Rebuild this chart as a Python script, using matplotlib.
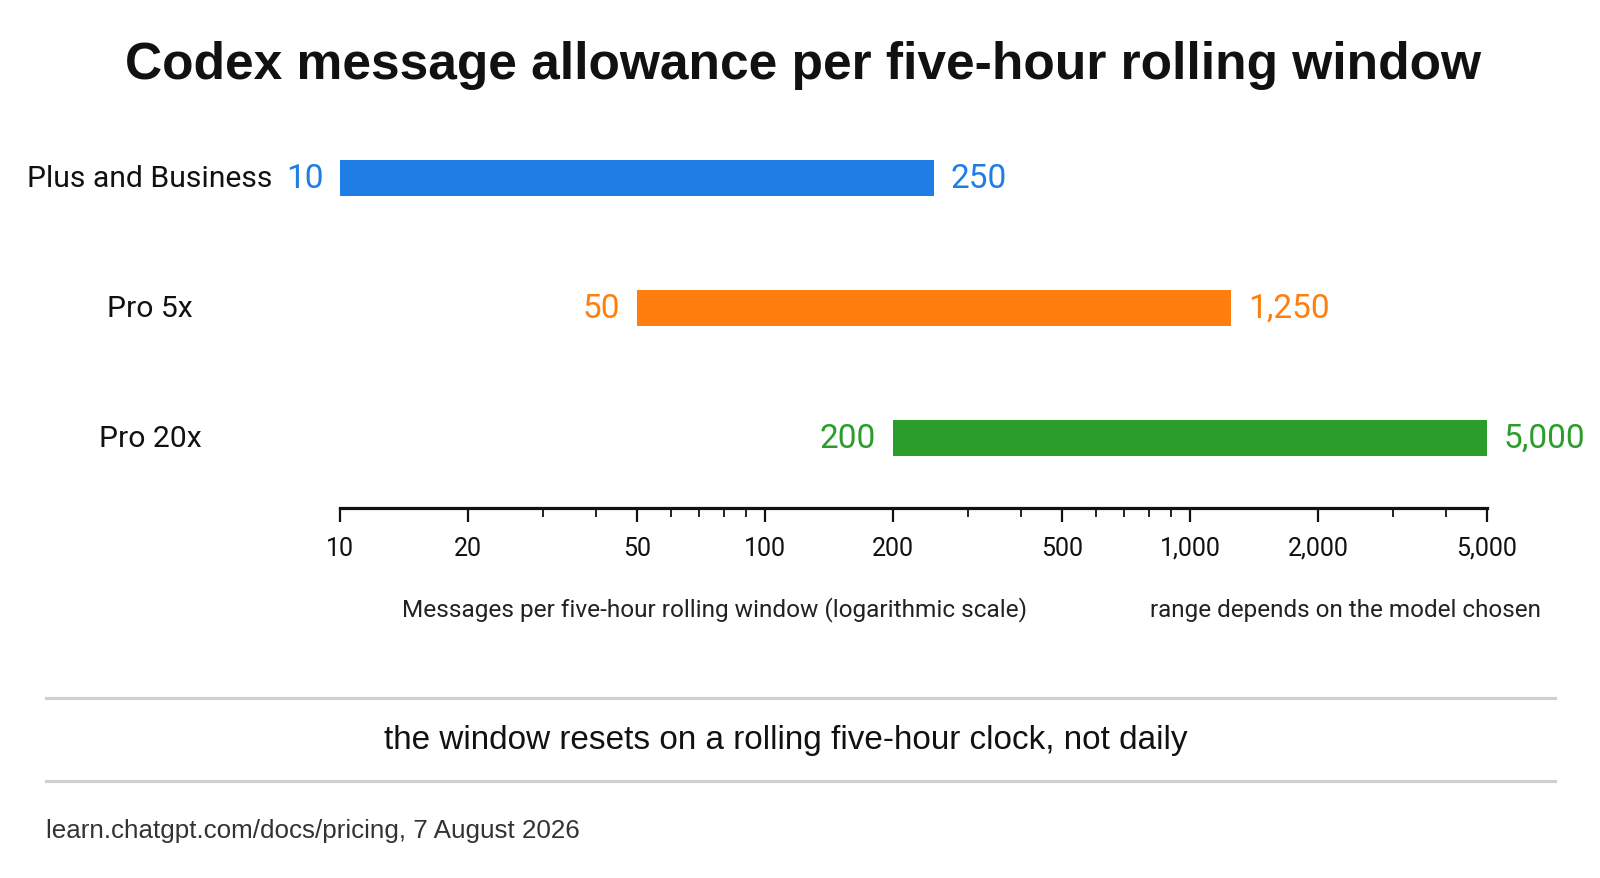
import matplotlib
matplotlib.use('Agg')
import matplotlib.pyplot as plt
import matplotlib.transforms as mtransforms
from matplotlib.lines import Line2D
from matplotlib.ticker import FixedLocator, FuncFormatter, NullFormatter

plans = ['Plus and Business', 'Pro 5x', 'Pro 20x']
low = [10, 50, 200]
high = [250, 1250, 5000]
colors = ['#1f7de6', '#ff7f0e', '#2a9d2a']
major_ticks = [10, 20, 50, 100, 200, 500, 1000, 2000, 5000]
minor_ticks = [30, 40, 60, 70, 80, 90, 300, 400, 600, 700, 800, 900, 3000, 4000]

title = 'Codex message allowance per five-hour rolling window'
xlabel = 'Messages per five-hour rolling window (logarithmic scale)'
side_note = 'range depends on the model chosen'
note = 'the window resets on a rolling five-hour clock, not daily'
source = 'learn.chatgpt.com/docs/pricing, 7 August 2026'

W, H = 1600, 879
fig = plt.figure(figsize=(W / 100, H / 100), dpi=100)
fig.patch.set_facecolor('white')


def fx(px):
    return px / W


def fy(py):
    return 1 - py / H


def fit(t, width_px):
    # scale the font so the text spans the width seen in the reference
    fig.canvas.draw()
    bb = t.get_window_extent(fig.canvas.get_renderer())
    t.set_fontsize(t.get_fontsize() * width_px / bb.width)


ax = fig.add_axes([fx(340), fy(509), fx(1487) - fx(340), fy(114) - fy(509)])
ax.set_xscale('log')
ax.set_xlim(10, 5000)
ax.set_ylim(2.538, -0.5)

lab_font = 'Roboto'
mixed = mtransforms.blended_transform_factory(fig.transFigure, ax.transData)
cat_texts = []
for i, (name, lo, hi, c) in enumerate(zip(plans, low, high, colors)):
    ax.barh(i, hi - lo, left=lo, height=0.277, color=c)
    ax.annotate(f'{lo:,}', (lo, i), xytext=(-12, 0), textcoords='offset points',
                ha='right', va='center', color=c, fontsize=24, family=lab_font)
    ax.annotate(f'{hi:,}', (hi, i), xytext=(12, 0), textcoords='offset points',
                ha='left', va='center', color=c, fontsize=24, family=lab_font)
    cat_texts.append(ax.text(fx(150), i, name, transform=mixed, ha='center', va='center',
                             fontsize=22, family=lab_font, color='#111111'))

for s in ['top', 'right', 'left']:
    ax.spines[s].set_visible(False)
ax.spines['bottom'].set_linewidth(2.3)
ax.spines['bottom'].set_color('#111111')
ax.xaxis.set_major_locator(FixedLocator(major_ticks))
ax.xaxis.set_minor_locator(FixedLocator(minor_ticks))
ax.xaxis.set_major_formatter(FuncFormatter(lambda v, p: f'{v:,.0f}'))
ax.xaxis.set_minor_formatter(NullFormatter())
ax.tick_params(axis='x', which='major', length=10, width=1.6, pad=10,
               labelsize=18, color='#111111', labelcolor='#111111')
ax.tick_params(axis='x', which='minor', length=6.5, width=1.3, color='#111111')
for lb in ax.get_xticklabels():
    lb.set_family(lab_font)
ax.tick_params(axis='y', left=False, labelleft=False)
ax.set_facecolor('none')

t_title = fig.text(fx(803), fy(66), title, ha='center', va='center', fontsize=36,
                   fontweight='bold', family='Liberation Sans', color='#111111')
t_xlab = fig.text(fx(715), fy(610), xlabel, ha='center', va='center', fontsize=18,
                  family=lab_font, color='#222222')
t_side = fig.text(fx(1346), fy(610), side_note, ha='center', va='center', fontsize=18,
                  family=lab_font, color='#222222')
t_note = fig.text(fx(786), fy(741), note, ha='center', va='center', fontsize=22,
                  family='Liberation Sans', color='#111111')
t_src = fig.text(fx(46), fy(831), source, ha='left', va='center', fontsize=16,
                 family='Liberation Sans', color='#333333')

for ypx in [699, 782]:
    fig.add_artist(Line2D([fx(46), fx(1555)], [fy(ypx), fy(ypx)], color='#cfcfcf', lw=2.2))

fit(t_title, 1357)
fit(t_xlab, 625)
fit(t_side, 391)
fit(t_note, 801)
fit(t_src, 534)
fit(cat_texts[0], 245)
for t in cat_texts[1:]:
    t.set_fontsize(cat_texts[0].get_fontsize())

fig.savefig('out.png', dpi=100)
